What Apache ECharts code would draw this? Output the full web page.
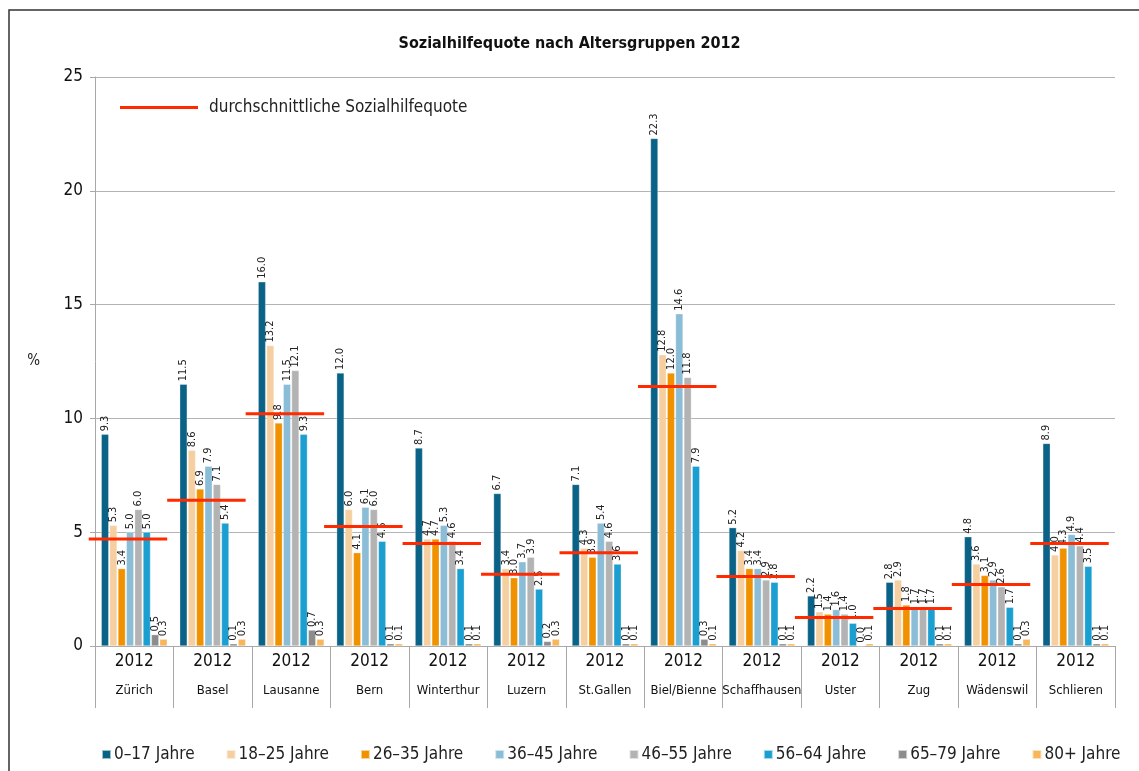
<!DOCTYPE html>
<html>
<head>
<meta charset="utf-8">
<title>Sozialhilfequote nach Altersgruppen 2012</title>
<script src="https://cdn.jsdelivr.net/npm/echarts@6/dist/echarts.min.js"></script>
<style>
    html, body { margin: 0; padding: 0; background: #ffffff; }
    #chart { width: 1139px; height: 771px; }
</style>
</head>
<body>
<div id="chart"></div>
<script>
// Chart data
const cities = ['Zürich', 'Basel', 'Lausanne', 'Bern', 'Winterthur', 'Luzern', 'St.Gallen',
    'Biel/Bienne', 'Schaffhausen', 'Uster', 'Zug', 'Wädenswil', 'Schlieren'];
const yearLabel = '2012';
const ageGroups = ['0–17 Jahre', '18–25 Jahre', '26–35 Jahre', '36–45 Jahre',
    '46–55 Jahre', '56–64 Jahre', '65–79 Jahre', '80+ Jahre'];

const age0to17 = [9.3, 11.5, 16.0, 12.0, 8.7, 6.7, 7.1, 22.3, 5.2, 2.2, 2.8, 4.8, 8.9];
const age18to25 = [5.3, 8.6, 13.2, 6.0, 4.7, 3.4, 4.3, 12.8, 4.2, 1.5, 2.9, 3.6, 4.0];
const age26to35 = [3.4, 6.9, 9.8, 4.1, 4.7, 3.0, 3.9, 12.0, 3.4, 1.4, 1.8, 3.1, 4.3];
const age36to45 = [5.0, 7.9, 11.5, 6.1, 5.3, 3.7, 5.4, 14.6, 3.4, 1.6, 1.7, 2.9, 4.9];
const age46to55 = [6.0, 7.1, 12.1, 6.0, 4.6, 3.9, 4.6, 11.8, 2.9, 1.4, 1.7, 2.6, 4.4];
const age56to64 = [5.0, 5.4, 9.3, 4.6, 3.4, 2.5, 3.6, 7.9, 2.8, 1.0, 1.7, 1.7, 3.5];
const age65to79 = [0.5, 0.1, 0.7, 0.1, 0.1, 0.2, 0.1, 0.3, 0.1, 0.0, 0.1, 0.1, 0.1];
const age80plus = [0.3, 0.3, 0.3, 0.1, 0.1, 0.3, 0.1, 0.1, 0.1, 0.1, 0.1, 0.3, 0.1];

const averageRate = [4.7, 6.4, 10.2, 5.25, 4.5, 3.15, 4.1, 11.4, 3.05, 1.25, 1.65, 2.7, 4.5];
const averageName = 'durchschnittliche Sozialhilfequote';

const yTicks = [0, 5, 10, 15, 20, 25];

const seriesValues = [age0to17, age18to25, age26to35, age36to45, age46to55, age56to64, age65to79, age80plus];
const seriesColors = ['#0b6287', '#f5cf9f', '#f09100', '#8bbdd7', '#b3b3b3', '#1b9fd1', '#8c8c8c', '#f7b65c'];

const fontFamily = '"Liberation Sans Narrow", "DejaVu Sans Condensed", "Liberation Sans", sans-serif';

document.addEventListener('DOMContentLoaded', function() {
    initializeChart();
});

function buildBarSeries() {
    return ageGroups.map(function(name, i) {
        return {
            name: name,
            type: 'bar',
            data: seriesValues[i],
            barGap: '12%',
            barCategoryGap: '16%',
            itemStyle: {
                color: seriesColors[i],
                borderColor: 'rgba(255,255,255,0.6)',
                borderWidth: 0.5
            },
            label: {
                show: true,
                position: 'top',
                rotate: 90,
                align: 'left',
                verticalAlign: 'middle',
                distance: 3,
                fontFamily: fontFamily,
                fontSize: 11,
                color: '#222',
                formatter: function(p) {
                    return p.value.toFixed(1);
                }
            }
        };
    });
}

function buildAverageSeries() {
    return {
        name: averageName,
        type: 'custom',
        data: averageRate.map(function(v, i) { return [i, v]; }),
        itemStyle: { color: '#ff2a00' },
        z: 5,
        renderItem: function(params, api) {
            const point = api.coord([api.value(0), api.value(1)]);
            const band = api.size([1, 0])[0];
            return {
                type: 'line',
                shape: {
                    x1: point[0] - band * 0.58,
                    y1: point[1],
                    x2: point[0] + band * 0.42,
                    y2: point[1]
                },
                style: { stroke: '#ff2a00', lineWidth: 3 }
            };
        }
    };
}

function initializeChart() {
    const chart = echarts.init(document.getElementById('chart'));

    const option = {
        backgroundColor: '#ffffff',
        animation: false,
        textStyle: { fontFamily: fontFamily },
        graphic: [{
            type: 'rect',
            shape: { x: 9, y: 10, width: 1300, height: 900 },
            style: { fill: 'none', stroke: '#333', lineWidth: 1.5 },
            silent: true
        }],
        title: {
            text: 'Sozialhilfequote nach Altersgruppen 2012',
            left: 'center',
            top: 31,
            textStyle: {
                fontFamily: fontFamily,
                fontSize: 16,
                fontWeight: 'bold',
                color: '#111'
            }
        },
        legend: [{
            data: [averageName],
            left: 115,
            top: 94,
            icon: 'rect',
            itemWidth: 78,
            itemHeight: 3,
            textStyle: {
                fontFamily: fontFamily,
                fontSize: 17,
                color: '#222',
                padding: [0, 0, 0, 6]
            }
        }, {
            data: ageGroups,
            left: 96,
            top: 741,
            icon: 'rect',
            itemWidth: 9,
            itemHeight: 9,
            itemGap: 31,
            textStyle: {
                fontFamily: fontFamily,
                fontSize: 17,
                color: '#222',
                padding: [0, 0, 0, -2]
            }
        }],
        grid: {
            left: 95,
            right: 24,
            top: 77,
            bottom: 125
        },
        xAxis: {
            type: 'category',
            data: cities,
            axisLine: { lineStyle: { color: '#a8a8a8' } },
            axisTick: {
                show: true,
                interval: 0,
                length: 62,
                lineStyle: { color: '#a8a8a8' }
            },
            axisLabel: {
                interval: 0,
                margin: 4,
                formatter: function(value) {
                    return '{y|' + yearLabel + '}\n{c|' + value + '}';
                },
                rich: {
                    y: { fontFamily: fontFamily, fontSize: 17, lineHeight: 24, color: '#111' },
                    c: { fontFamily: fontFamily, fontSize: 13, lineHeight: 34, color: '#111' }
                }
            }
        },
        yAxis: {
            type: 'value',
            min: yTicks[0],
            max: yTicks[yTicks.length - 1],
            interval: 5,
            name: '%',
            nameLocation: 'middle',
            nameRotate: 0,
            nameGap: 55,
            nameTextStyle: { fontFamily: fontFamily, fontSize: 15, color: '#222' },
            axisLine: { show: true, lineStyle: { color: '#a8a8a8' } },
            axisTick: { show: true, length: 5, lineStyle: { color: '#a8a8a8' } },
            axisLabel: {
                margin: 12,
                fontFamily: fontFamily,
                fontSize: 17,
                color: '#111'
            },
            splitLine: { lineStyle: { color: '#b4b4b4' } }
        },
        series: buildBarSeries().concat([buildAverageSeries()])
    };

    chart.setOption(option);
}
</script>
</body>
</html>
